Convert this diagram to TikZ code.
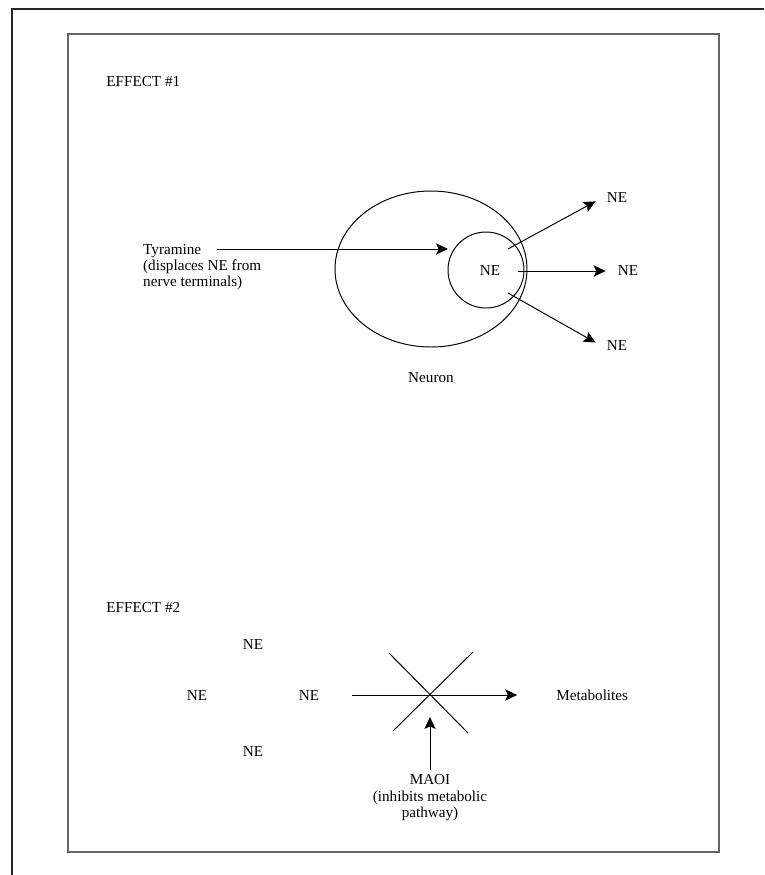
\documentclass[tikz,border=0pt]{standalone}
\usepackage{fontspec}
\setmainfont{Liberation Serif}
\usetikzlibrary{arrows.meta}

\begin{document}
\begin{tikzpicture}[line width=0.7pt,
  every node/.style={font=\fontsize{10.8}{11.7}\selectfont},
  tip/.style={-{Stealth[length=8.5pt,width=8pt,inset=1.8pt]}}]
\useasboundingbox (0,0) rectangle (19.1,-21.875);
% frames
\draw[line width=1.5pt,black!85] (0.3,-21.875) -- (0.3,-0.225) -- (19.1,-0.225);
\draw[line width=0.9pt,black!60] (1.7,-0.85) rectangle (17.975,-21.3);
% effect 1
\node[anchor=west] (e1) at (2.53,-2.05) {EFFECT \#1};
\node[anchor=north west,align=left] (tyr) at (3.45,-5.97) {Tyramine\\(displaces NE from\\nerve terminals)};
\draw (10.775,-6.725) ellipse [x radius=2.4,y radius=1.95];
\draw (12.15,-6.75) circle [radius=0.95];
\node (ne0) at (12.25,-6.775) {NE};
\node (neu) at (10.775,-9.45) {Neuron};
\coordinate (t0) at (5.425,-6.225); \coordinate (t1) at (11.2,-6.225);
\draw[tip] (t0) -- (t1);
\node (ne1) at (15.425,-4.95) {NE};
\node (ne2) at (15.7,-6.775) {NE};
\node (ne3) at (15.425,-8.65) {NE};
\coordinate (s1) at (12.7,-6.225);
\coordinate (s2) at (12.95,-6.775);
\coordinate (s3) at (12.7,-7.325);
\draw[tip,shorten >=5pt] (s1) -- (ne1.west);
\draw[tip,shorten >=5pt] (s2) -- (ne2.west);
\draw[tip,shorten >=5pt] (s3) -- (ne3.west);
% effect 2
\node[anchor=west] (e2) at (2.53,-15.2) {EFFECT \#2};
\node (na) at (6.325,-16.125) {NE};
\node (nb) at (4.925,-17.4) {NE};
\node (nc) at (7.725,-17.4) {NE};
\node (nd) at (6.325,-18.8) {NE};
\node[anchor=west] (met) at (13.78,-17.375) {Metabolites};
\coordinate (m0) at (8.8,-17.375);
\draw[tip,shorten >=0.85cm] (m0) -- (met.west);
\draw (9.725,-16.325) -- (11.7,-18.325) (11.825,-16.3) -- (9.825,-18.275);
\node[anchor=north,align=center] (maoi) at (10.75,-19.24) {MAOI\\(inhibits metabolic\\pathway)};
\coordinate (x0) at (10.75,-17.925);
\draw[tip] (maoi) -- (x0);
\end{tikzpicture}
\end{document}
